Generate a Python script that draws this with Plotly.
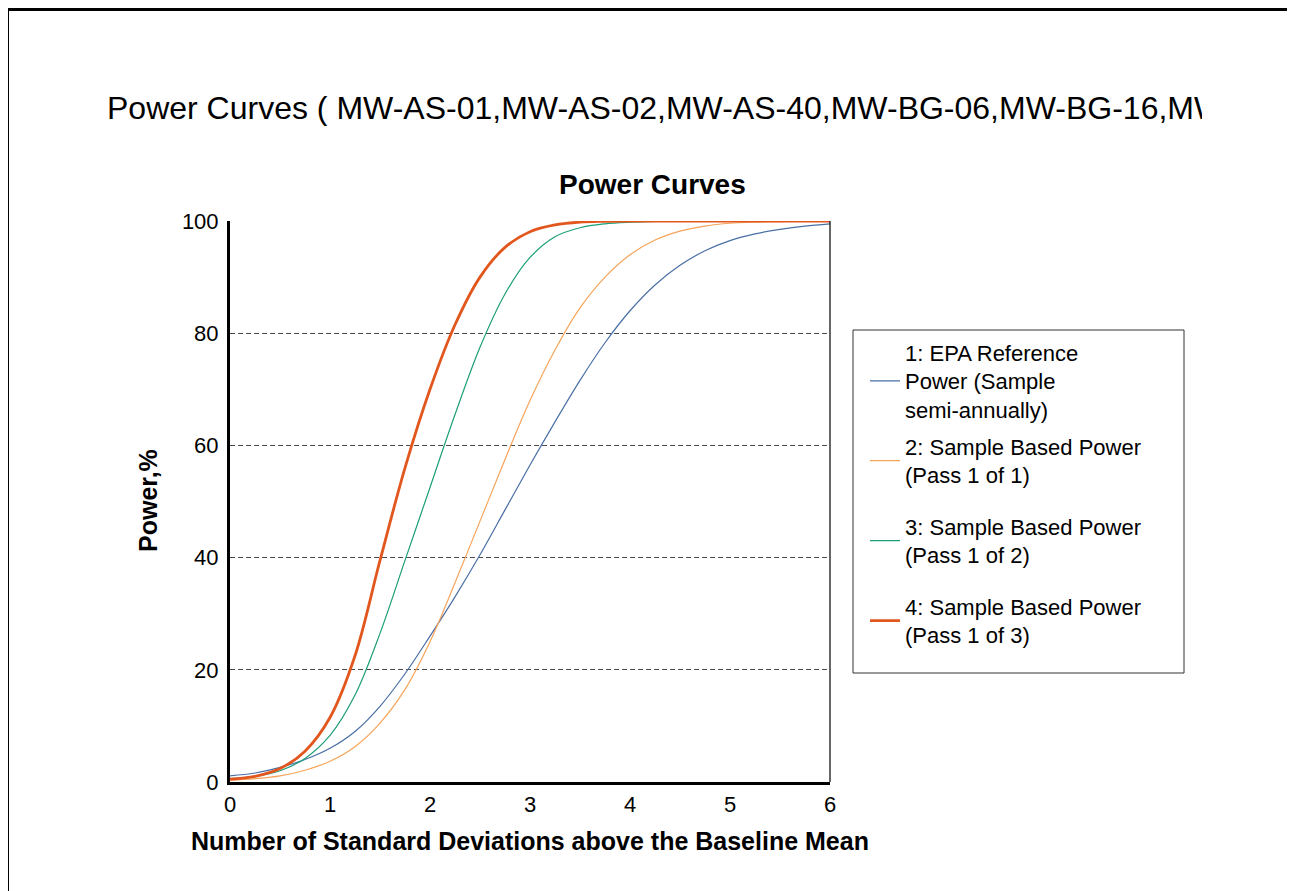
import plotly.graph_objects as go

# ---- data ----
x_vals = [0, 0.25, 0.5, 0.75, 1.0, 1.25, 1.5, 1.75, 2.0, 2.25, 2.5, 2.75, 3.0, 3.25,
          3.5, 3.75, 4.0, 4.25, 4.5, 4.75, 5.0, 5.25, 5.5, 5.75, 6.0]

epa_reference = [1.1, 1.6, 2.6, 4.0, 6.0, 9.0, 13.5, 19.3, 26.0, 33.0, 40.5, 48.5, 56.5, 64.2,
                 71.6, 78.3, 84.0, 88.6, 92.1, 94.7, 96.5, 97.7, 98.5, 99.1, 99.5]
pass_1_of_1 = [0.3, 0.6, 1.1, 2.1, 3.7, 6.3, 10.5, 16.5, 25.0, 35.5, 46.5, 57.5, 68.0, 77.0,
               84.5, 90.0, 94.0, 96.6, 98.2, 99.1, 99.6, 99.8, 99.9, 100.0, 100.0]
pass_1_of_2 = [0.6, 1.0, 2.0, 4.2, 8.3, 15.5, 26.5, 39.5, 52.5, 65.5, 77.5, 87.0, 93.5, 97.2,
               98.8, 99.5, 99.8, 99.95, 100.0, 100.0, 100.0, 100.0, 100.0, 100.0, 100.0]
pass_1_of_3 = [0.5, 1.0, 2.4, 5.5, 11.5, 22.5, 39.5, 56.0, 70.0, 81.5, 90.0, 95.3, 98.1, 99.3,
               99.8, 99.95, 100.0, 100.0, 100.0, 100.0, 100.0, 100.0, 100.0, 100.0, 100.0]

series_names = [
    "1: EPA Reference<br>Power (Sample<br>semi-annually)",
    "2: Sample Based Power<br>(Pass 1 of 1)",
    "3: Sample Based Power<br>(Pass 1 of 2)",
    "4: Sample Based Power<br>(Pass 1 of 3)",
]
series_values = [epa_reference, pass_1_of_1, pass_1_of_2, pass_1_of_3]
series_colors = ["#4a6fa5", "#f6a45a", "#1c9e78", "#e2571e"]
series_widths = [1.2, 1.2, 1.2, 2.8]
legend_ids = ["legend", "legend2", "legend3", "legend4"]

x_ticks = [0, 1, 2, 3, 4, 5, 6]
y_ticks = [0, 20, 40, 60, 80, 100]

outer_title = "Power Curves ( MW-AS-01,MW-AS-02,MW-AS-40,MW-BG-06,MW-BG-16,MW-BG-17 )"
chart_title = "Power Curves"
x_title = "Number of Standard Deviations above the Baseline Mean"
y_title = "Power,%"

FONT = "Arial, 'Liberation Sans', sans-serif"

# page has an 8px body margin; screen-pixel targets below
OFF = 8
W, H = 1295 - OFF, 891 - OFF
L, R, T, B = 230, 830, 221, 782   # plot area in screen pixels


def px(xs):
    return (xs - L) / (R - L)


def py(ys):
    return (B - ys) / (B - T)


fig = go.Figure()
for name, vals, col, w, lg in zip(series_names, series_values, series_colors, series_widths, legend_ids):
    fig.add_trace(go.Scatter(
        x=x_vals, y=vals, mode="lines", name=name,
        line=dict(color=col, width=w, shape="spline", smoothing=1.0),
        cliponaxis=False, legend=lg, hoverinfo="skip",
    ))

legend_centers = [381, 461, 541, 621]
legend_layouts = {}
for lg, cy in zip(legend_ids, legend_centers):
    legend_layouts[lg] = dict(
        x=px(865), y=py(cy), xanchor="left", yanchor="middle",
        xref="paper", yref="paper",
        bgcolor="rgba(0,0,0,0)", borderwidth=0,
        font=dict(family=FONT, size=22, color="black"),
        valign="middle",
    )

fig.update_layout(
    width=W, height=H,
    margin=dict(l=L - OFF, r=W - (R - OFF), t=T - OFF, b=H - (B - OFF), autoexpand=False),
    paper_bgcolor="white", plot_bgcolor="white",
    showlegend=True,
    font=dict(family=FONT, color="black"),
    **legend_layouts,
    xaxis=dict(
        range=[0, 6], tickvals=x_ticks, showgrid=False, zeroline=False,
        showline=True, linecolor="black", linewidth=3,
        ticks="", ticklabelstandoff=1,
        tickfont=dict(family=FONT, size=22, color="black"),
    ),
    yaxis=dict(
        range=[0, 100], tickvals=y_ticks, showgrid=True, gridcolor="#4a4a4a",
        griddash="5px,3px", gridwidth=1.3, zeroline=False,
        showline=True, linecolor="black", linewidth=3,
        ticks="", ticklabelstandoff=4,
        tickfont=dict(family=FONT, size=22, color="black"),
    ),
)

shapes = [
    # right frame of plot area
    dict(type="line", xref="paper", yref="paper", x0=1, x1=1, y0=0, y1=1,
         line=dict(color="black", width=1.2)),
    # legend box
    dict(type="rect", xref="paper", yref="paper", x0=px(853), x1=px(1184), y0=py(673), y1=py(330),
         line=dict(color="#333333", width=1), fillcolor="rgba(0,0,0,0)", layer="below"),
    # outer frame (top and left edges visible)
    dict(type="line", xref="paper", yref="paper", x0=px(6.5), x1=px(1310), y0=py(9.5), y1=py(9.5),
         line=dict(color="black", width=3)),
    dict(type="line", xref="paper", yref="paper", x0=px(7.5), x1=px(7.5), y0=py(8), y1=py(910),
         line=dict(color="black", width=3)),
]
fig.update_layout(shapes=shapes)

annotations = [
    # the reference clips this long title at the right; width reproduces the clip
    dict(text=outer_title, xref="paper", yref="paper", x=px(105), y=py(108),
         xanchor="left", yanchor="middle", showarrow=False, align="left", width=1095,
         font=dict(family=FONT, size=32, color="black")),
    dict(text="<b>" + chart_title + "</b>", xref="paper", yref="paper", x=px(652), y=py(185),
         xanchor="center", yanchor="middle", showarrow=False,
         font=dict(family=FONT, size=28, color="black")),
    dict(text="<b>" + x_title + "</b>", xref="paper", yref="paper", x=px(530), y=py(841),
         xanchor="center", yanchor="middle", showarrow=False,
         font=dict(family=FONT, size=25, color="black")),
    dict(text="<b>" + y_title + "</b>", xref="paper", yref="paper", x=px(148), y=py(501),
         xanchor="center", yanchor="middle", showarrow=False, textangle=-90,
         font=dict(family=FONT, size=25, color="black")),
]
fig.update_layout(annotations=annotations)

fig.write_html("out.html")
